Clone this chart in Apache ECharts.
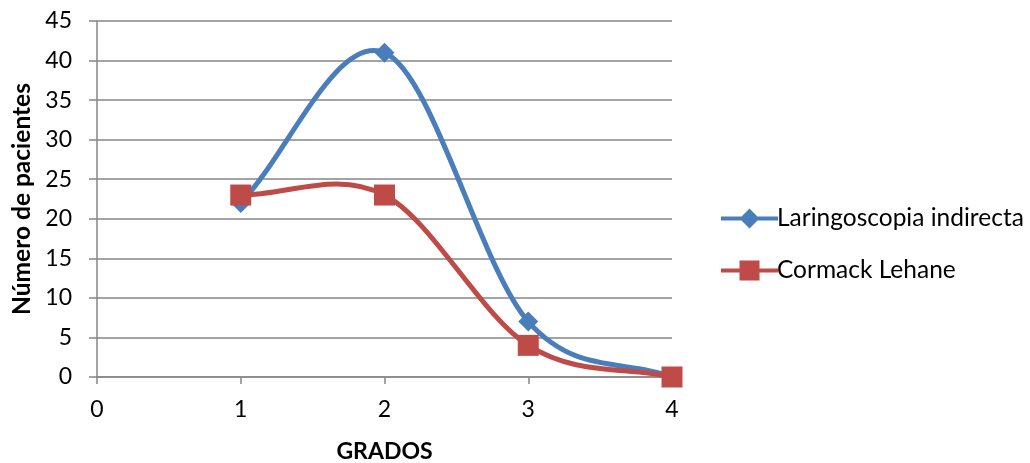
<!DOCTYPE html>
<html>
<head>
<meta charset="utf-8">
<script src="https://cdn.jsdelivr.net/npm/echarts@6/dist/echarts.min.js"></script>
<style>
  html, body { margin: 0; padding: 0; background: #ffffff; }
  #chart { width: 1030px; height: 463px; }
</style>
</head>
<body>
<div id="chart"></div>
<script>
// Grades (x) and patient counts for each assessment method
const grados = [1, 2, 3, 4];
const laringoscopia = [22, 41, 7, 0];
const cormack = [23, 23, 4, 0];
const seriesNames = ['Laringoscopia indirecta', 'Cormack Lehane'];
const xTicks = { min: 0, max: 4, interval: 1 };
const yTicks = { min: 0, max: 45, interval: 5 };

const FONT = 'Lato, "Open Sans", sans-serif';
const AXIS_COLOR = '#868686';
const BLUE = '#4A7EBB';
const RED = '#BE4B48';

// Smooth curve segment from point i to i+1 (cardinal spline, tangent = half the
// neighbour difference; end tangents use the adjacent chord), drawn in pixel space.
function smoothSegment(color) {
  return function (params, api) {
    const n = params.dataInsideLength;
    const i = params.dataIndexInside;
    if (i >= n - 1) return null;
    const pt = (j) => api.coord([api.value(0, j), api.value(1, j)]);
    const pts = [];
    for (let j = 0; j < n; j++) pts.push(pt(j));
    const tangent = (j) => {
      if (j === 0) return [pts[1][0] - pts[0][0], pts[1][1] - pts[0][1]];
      if (j === n - 1) return [pts[n - 1][0] - pts[n - 2][0], pts[n - 1][1] - pts[n - 2][1]];
      return [(pts[j + 1][0] - pts[j - 1][0]) / 2, (pts[j + 1][1] - pts[j - 1][1]) / 2];
    };
    const a = pts[i], b = pts[i + 1];
    const ta = tangent(i), tb = tangent(i + 1);
    return {
      type: 'bezierCurve',
      shape: {
        x1: a[0], y1: a[1], x2: b[0], y2: b[1],
        cpx1: a[0] + ta[0] / 3, cpy1: a[1] + ta[1] / 3,
        cpx2: b[0] - tb[0] / 3, cpy2: b[1] - tb[1] / 3
      },
      style: { stroke: color, lineWidth: 5, fill: null, lineCap: 'round' }
    };
  };
}

// Legend icons: a line with the series marker in the middle
const ICON_DIAMOND = 'path://M0,8 L57,8 L57,12 L0,12 Z M28.5,0 L38.5,10 L28.5,20 L18.5,10 Z';
const ICON_SQUARE = 'path://M0,8 L57,8 L57,12 L0,12 Z M18.5,0 L38.5,0 L38.5,20 L18.5,20 Z';

const chart = echarts.init(document.getElementById('chart'));
chart.setOption({
  animation: false,
  backgroundColor: '#ffffff',
  textStyle: { fontFamily: FONT },
  grid: { left: 97, right: 358, top: 21, bottom: 86, containLabel: false, outerBoundsMode: 'none' },
  legend: {
    orient: 'vertical',
    left: 716,
    top: 201,
    itemWidth: 57,
    itemHeight: 20,
    itemGap: 27,
    textStyle: { fontSize: 24.5, color: '#000', fontFamily: FONT, lineHeight: 20, padding: [2, 0, 0, -6] },
    data: [
      { name: seriesNames[0], icon: ICON_DIAMOND, itemStyle: { color: BLUE } },
      { name: seriesNames[1], icon: ICON_SQUARE, itemStyle: { color: RED } }
    ]
  },
  xAxis: {
    type: 'value',
    min: xTicks.min,
    max: xTicks.max,
    interval: xTicks.interval,
    name: 'GRADOS',
    nameLocation: 'middle',
    nameGap: 63,
    nameTextStyle: { fontSize: 23, fontWeight: 'bold', color: '#000', fontFamily: FONT },
    axisLine: { show: true, onZero: false, lineStyle: { color: AXIS_COLOR, width: 1.5 } },
    axisTick: { show: true, length: 7, lineStyle: { color: AXIS_COLOR, width: 1.5 } },
    axisLabel: { fontSize: 23, color: '#000', margin: 21, fontFamily: FONT },
    splitLine: { show: false }
  },
  yAxis: {
    type: 'value',
    min: yTicks.min,
    max: yTicks.max,
    interval: yTicks.interval,
    name: 'Número de pacientes',
    nameLocation: 'middle',
    nameGap: 52,
    nameRotate: 90,
    nameTextStyle: { fontSize: 24.5, fontWeight: 'bold', color: '#000', fontFamily: FONT },
    axisLine: { show: true, lineStyle: { color: AXIS_COLOR, width: 1.5 } },
    axisTick: { show: true, length: 8, lineStyle: { color: AXIS_COLOR, width: 1.5 } },
    axisLabel: { fontSize: 23, color: '#000', margin: 25, fontFamily: FONT },
    splitLine: { show: true, lineStyle: { color: AXIS_COLOR, width: 1.5 } }
  },
  series: [
    {
      name: seriesNames[0] + ' curva',
      type: 'custom',
      renderItem: smoothSegment(BLUE),
      data: grados.map((g, i) => [g, laringoscopia[i]]),
      encode: { x: 0, y: 1 },
      silent: true,
      z: 2
    },
    {
      name: seriesNames[0],
      type: 'scatter',
      data: grados.map((g, i) => [g, laringoscopia[i]]),
      symbol: 'diamond',
      symbolSize: 20,
      itemStyle: { color: BLUE, opacity: 1 },
      z: 3
    },
    {
      name: seriesNames[1] + ' curva',
      type: 'custom',
      renderItem: smoothSegment(RED),
      data: grados.map((g, i) => [g, cormack[i]]),
      encode: { x: 0, y: 1 },
      silent: true,
      z: 4
    },
    {
      name: seriesNames[1],
      type: 'scatter',
      data: grados.map((g, i) => [g, cormack[i]]),
      symbol: 'rect',
      symbolSize: 21,
      itemStyle: { color: RED, opacity: 1 },
      z: 5
    }
  ]
});
</script>
</body>
</html>
